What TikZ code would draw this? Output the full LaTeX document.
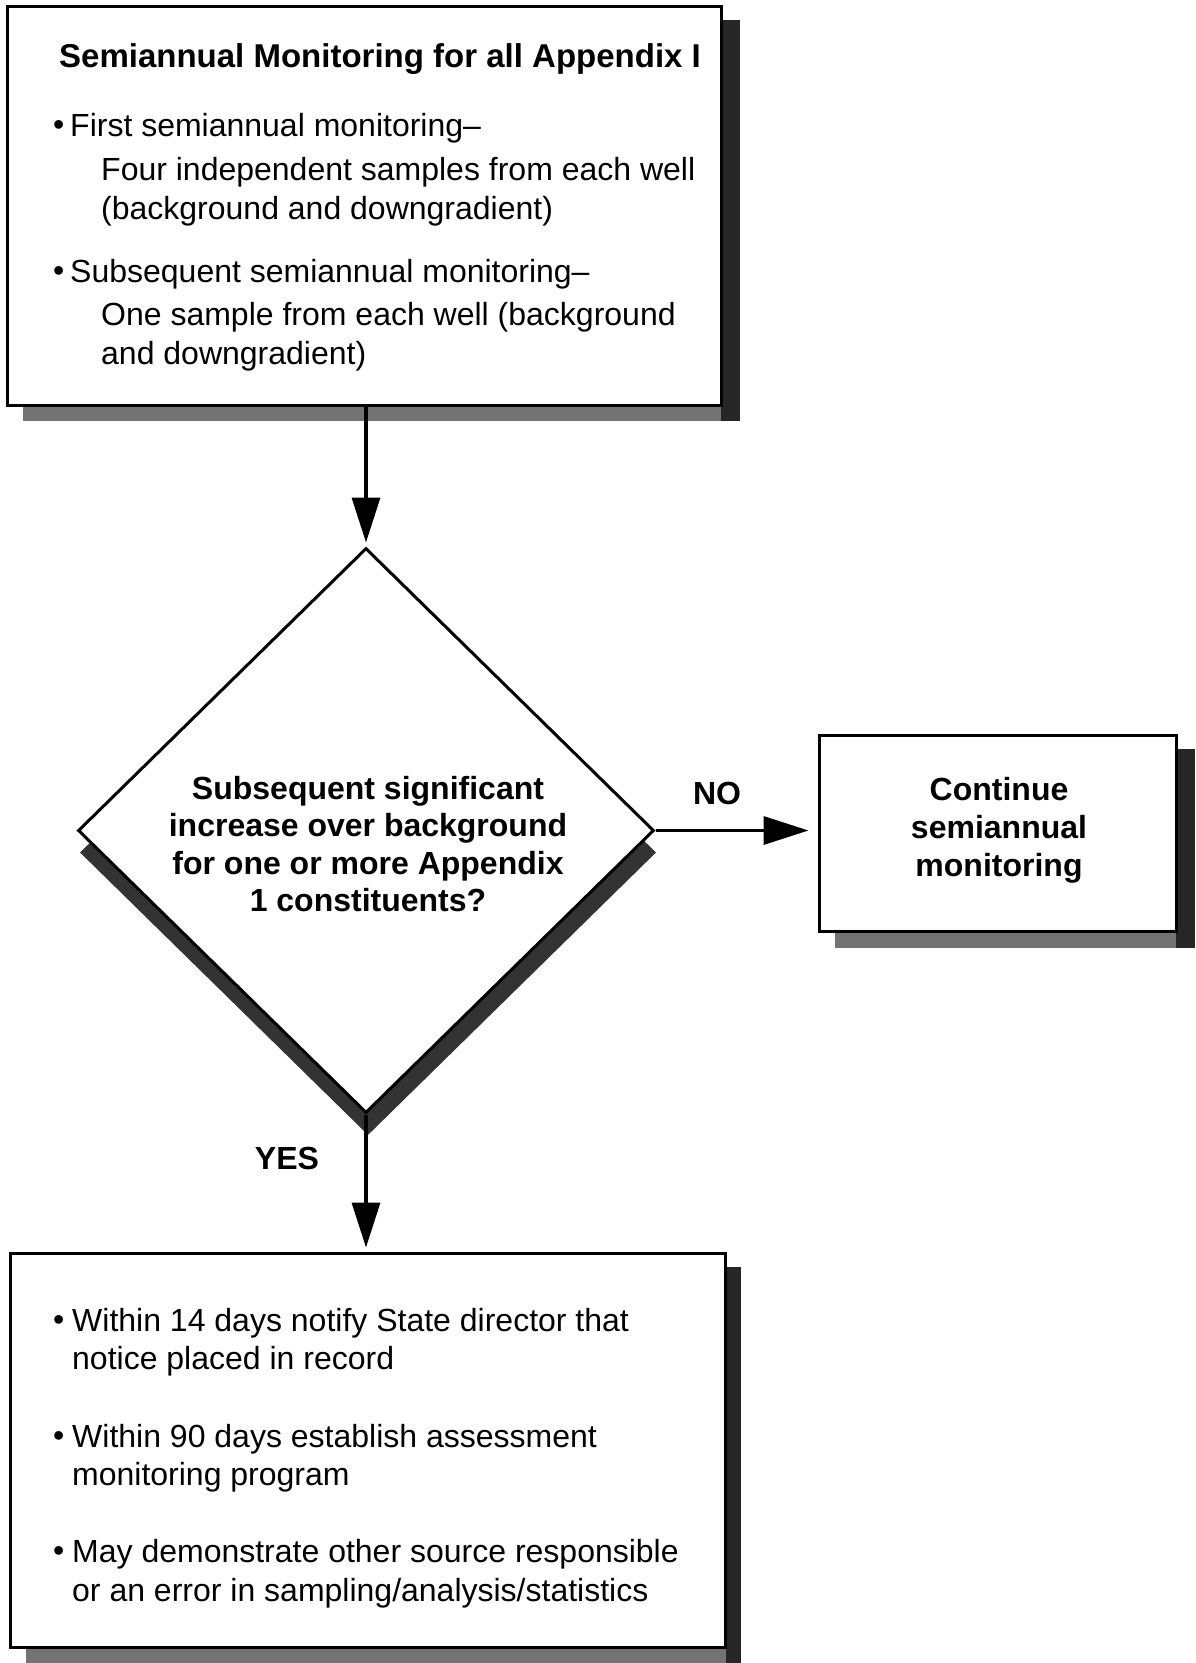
\documentclass[tikz,border=0pt]{standalone}
\usepackage{fontspec}
\setmainfont{Liberation Sans}
\usetikzlibrary{arrows.meta,shapes.geometric}
\begin{document}
\begin{tikzpicture}[x=1pt,y=-1pt,
  box/.style={draw=black, line width=3pt, fill=white, inner sep=0pt, rectangle},
  conn/.style={draw=black, line width=3.5pt, -{Triangle[length=45pt,width=28pt]}},
  body/.style={font=\fontsize{32}{38}\selectfont, anchor=west, inner sep=0pt},
  boldtxt/.style={font=\fontsize{32}{37.5}\selectfont\bfseries, inner sep=0pt, align=center},
  darksh/.style={fill=black!85, draw=none},
  lightsh/.style={fill=black!55, draw=none}]

\useasboundingbox[fill=white] (0,0) rectangle (1195,1663);

% ---------- shadows ----------
\fill[lightsh] (23,405) rectangle (740,421);
\fill[darksh] (721,20) rectangle (740,421);
\fill[lightsh] (835,931) rectangle (1195,948);
\fill[darksh] (1176,749) rectangle (1195,948);
\fill[lightsh] (26,1647) rectangle (741,1663);
\fill[darksh] (726,1267) rectangle (741,1663);
\node[diamond, fill=black!80, draw=none, inner sep=0pt, minimum width=576pt, minimum height=565pt] (diash) at (368,852.5) {};

% ---------- boxes ----------
\node[box, minimum width=714pt, minimum height=399pt] (top) at (364,205.5) {};
\node[diamond, draw=black, line width=3pt, fill=white, inner sep=0pt, minimum width=576pt, minimum height=565pt] (dia) at (366,830.5) {};
\node[box, minimum width=357pt, minimum height=196pt] (cont) at (997.5,833) {};
\node[box, minimum width=715pt, minimum height=394pt] (act) at (368.3,1450) {};

% ---------- top box text ----------
\node[font=\fontsize{33}{38}\selectfont\bfseries, inner sep=0pt] (title) at (380,59) {Semiannual Monitoring for all Appendix I};
\node[body] (b1) at (53,128) {•};
\node[body] (t1) at (70,128) {First semiannual monitoring–};
\node[body] (t2) at (101,172) {Four independent samples from each well};
\node[body] (t3) at (101,211) {(background and downgradient)};
\node[body] (b2) at (53,274) {•};
\node[body] (t4) at (70,274) {Subsequent semiannual monitoring–};
\node[body] (t5) at (101,317) {One sample from each well (background};
\node[body] (t6) at (101,356) {and downgradient)};

% ---------- diamond text ----------
\node[boldtxt] (q) at (368,844) {Subsequent significant\\increase over background\\for one or more Appendix\\1 constituents?};

% ---------- right box text ----------
\node[boldtxt, font=\fontsize{32}{38}\selectfont\bfseries] (ct) at (999,830) {Continue\\semiannual\\monitoring};

% ---------- bottom box text ----------
\node[body] (c1) at (53,1323) {•};
\node[body] (u1) at (72,1323) {Within 14 days notify State director that};
\node[body] (u2) at (72,1361) {notice placed in record};
\node[body] (c2) at (53,1439) {•};
\node[body] (u3) at (72,1439) {Within 90 days establish assessment};
\node[body] (u4) at (72,1477) {monitoring program};
\node[body] (c3) at (53,1554) {•};
\node[body] (u5) at (72,1554) {May demonstrate other source responsible};
\node[body] (u6) at (72,1593) {or an error in sampling/analysis/statistics};

% ---------- connectors ----------
\draw[conn, shorten >=4pt] (dia.north |- top.south) -- (dia.north);
\draw[conn, shorten >=9pt] (dia.east) -- (cont.west |- dia.east);
\draw[conn, shorten >=4pt] (dia.south) -- (dia.south |- act.north);

% ---------- labels ----------
\node[boldtxt] (no) at (717,793) {NO};
\node[boldtxt] (yes) at (287,1158) {YES};
\end{tikzpicture}
\end{document}
